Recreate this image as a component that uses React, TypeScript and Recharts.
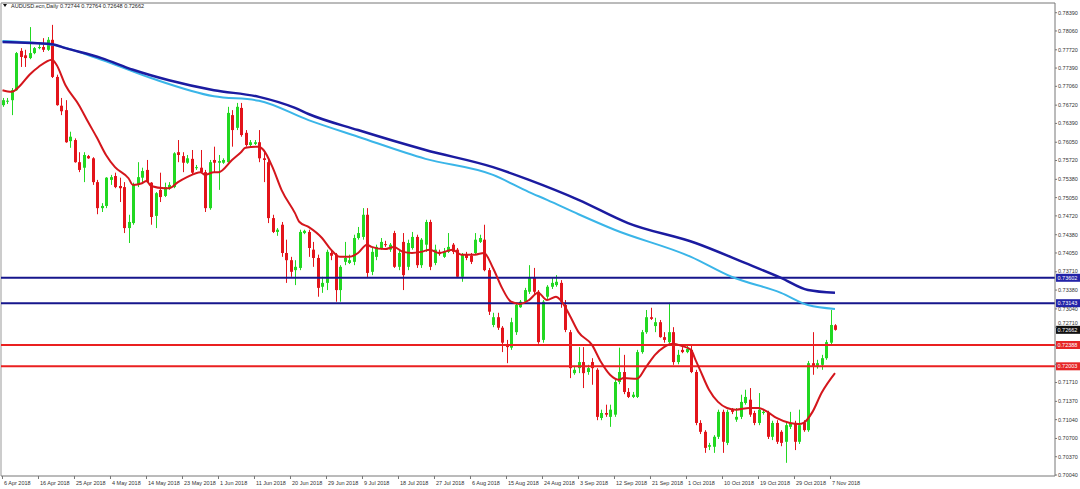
import { Bar, ComposedChart, Line, ReferenceLine, XAxis, YAxis } from "recharts";

// daily bars from 6 Apr 2018 (Sunday sessions included)
const opens = [
  0.7672, 0.7679, 0.7681, 0.7699, 0.777, 0.7762, 0.7757, 0.7766, 0.7775, 0.7777,
  0.7772, 0.779, 0.7723, 0.7671, 0.7663, 0.7607, 0.7609, 0.7569, 0.7559, 0.758,
  0.7576, 0.7533, 0.7486, 0.749, 0.7537, 0.7544, 0.7526, 0.7524, 0.745, 0.7459,
  0.7528, 0.7541, 0.7555, 0.7532, 0.7472, 0.7519, 0.7508, 0.7522, 0.7524, 0.7587,
  0.758, 0.7568, 0.7575, 0.7559, 0.7559, 0.7551, 0.7486, 0.7573, 0.7568, 0.7568,
  0.7569, 0.7654, 0.7631, 0.7667, 0.7622, 0.76, 0.7602, 0.7605, 0.7576, 0.7569,
  0.7468, 0.7443, 0.7456, 0.7405, 0.7392, 0.7374, 0.7378, 0.7441, 0.7443, 0.7411,
  0.7396, 0.7344, 0.7351, 0.7405, 0.7402, 0.7338, 0.7389, 0.7387, 0.7389, 0.7432,
  0.7434, 0.7474, 0.7371, 0.7398, 0.7414, 0.7421, 0.7411, 0.7441, 0.738, 0.7425,
  0.738, 0.7414, 0.7434, 0.7383, 0.742, 0.7461, 0.7387, 0.7407, 0.7398, 0.7407,
  0.742, 0.7411, 0.7362, 0.7402, 0.74, 0.7405, 0.7425, 0.7429, 0.7374, 0.7275,
  0.7289, 0.727, 0.7239, 0.7234, 0.7262, 0.7307, 0.7317, 0.7335, 0.736, 0.7335,
  0.7248, 0.7326, 0.7344, 0.7347, 0.7351, 0.7311, 0.7262, 0.7188, 0.7197, 0.7208,
  0.719, 0.7208, 0.7194, 0.7107, 0.7116, 0.7109, 0.7113, 0.7172, 0.719, 0.7154,
  0.7145, 0.7145, 0.7226, 0.7262, 0.7289, 0.7273, 0.728, 0.7253, 0.7244, 0.7262,
  0.7208, 0.723, 0.7226, 0.723, 0.719, 0.7098, 0.7082, 0.7055, 0.7055, 0.7073,
  0.7118, 0.7062, 0.7122, 0.7104, 0.7109, 0.7134, 0.714, 0.7116, 0.7098, 0.7116,
  0.7116, 0.7073, 0.7098, 0.7082, 0.7064, 0.7091, 0.7098, 0.7064, 0.7098, 0.7085,
  0.7206, 0.7199, 0.7203, 0.7215, 0.7243, 0.72744,
];
const highs = [
  0.7685, 0.7685, 0.7703, 0.7768, 0.7775, 0.7772, 0.7813, 0.7777, 0.7784, 0.7793,
  0.7795, 0.7817, 0.7727, 0.7685, 0.7681, 0.7624, 0.7612, 0.7587, 0.7587, 0.7582,
  0.7578, 0.7537, 0.7495, 0.7542, 0.7546, 0.755, 0.7541, 0.7533, 0.7474, 0.7532,
  0.7569, 0.7559, 0.7573, 0.7533, 0.7515, 0.755, 0.7532, 0.7533, 0.7587, 0.7609,
  0.7587, 0.7582, 0.7591, 0.7564, 0.7591, 0.7555, 0.7573, 0.7597, 0.7582, 0.7576,
  0.7669, 0.7663, 0.7676, 0.7676, 0.7627, 0.7609, 0.7609, 0.7627, 0.7591, 0.7576,
  0.7474, 0.745, 0.7461, 0.7429, 0.7398, 0.7392, 0.7447, 0.7447, 0.7447, 0.7425,
  0.7402, 0.7362, 0.7411, 0.7411, 0.7405, 0.7383, 0.7425, 0.7402, 0.7438, 0.7452,
  0.7486, 0.7486, 0.7414, 0.742, 0.7432, 0.7427, 0.7423, 0.7445, 0.7411, 0.7441,
  0.7429, 0.7443, 0.7438, 0.7432, 0.7465, 0.7465, 0.742, 0.7411, 0.7414, 0.7441,
  0.7423, 0.7414, 0.7405, 0.7407, 0.7405, 0.7441, 0.7438, 0.7456, 0.7378, 0.7297,
  0.7297, 0.7273, 0.7248, 0.7288, 0.7315, 0.732, 0.7342, 0.7383, 0.7378, 0.7338,
  0.732, 0.7347, 0.736, 0.7365, 0.7356, 0.732, 0.7266, 0.7201, 0.7235, 0.7235,
  0.7203, 0.7215, 0.7197, 0.7122, 0.7131, 0.7131, 0.7176, 0.7234, 0.7221, 0.7161,
  0.7154, 0.723, 0.7266, 0.7302, 0.7306, 0.7288, 0.7284, 0.7262, 0.7315, 0.7271,
  0.723, 0.7235, 0.7237, 0.7239, 0.7194, 0.7103, 0.7085, 0.7062, 0.7076, 0.7122,
  0.7122, 0.7122, 0.7125, 0.7125, 0.7149, 0.7158, 0.7161, 0.712, 0.7152, 0.7122,
  0.712, 0.7102, 0.7103, 0.7085, 0.7098, 0.7118, 0.7102, 0.7122, 0.7103, 0.721,
  0.7262, 0.7212, 0.7221, 0.7248, 0.7302, 0.72764,
];
const lows = [
  0.7669, 0.7674, 0.7654, 0.7698, 0.7741, 0.7741, 0.7755, 0.7764, 0.7773, 0.7768,
  0.777, 0.7721, 0.7671, 0.7654, 0.7604, 0.7595, 0.7568, 0.7551, 0.7533, 0.7575,
  0.7528, 0.7475, 0.7479, 0.7486, 0.7528, 0.7522, 0.7497, 0.7441, 0.7423, 0.7456,
  0.7524, 0.7533, 0.7532, 0.7456, 0.745, 0.7497, 0.7506, 0.7519, 0.7522, 0.7569,
  0.7551, 0.7566, 0.7546, 0.7555, 0.755, 0.7479, 0.7483, 0.7551, 0.7519, 0.7566,
  0.7568, 0.7597, 0.7627, 0.7615, 0.7597, 0.7597, 0.76, 0.7569, 0.7533, 0.7459,
  0.7441, 0.7436, 0.7398, 0.7351, 0.7362, 0.7347, 0.7374, 0.7439, 0.7398, 0.738,
  0.7326, 0.7333, 0.7338, 0.7392, 0.7317, 0.7317, 0.7383, 0.7385, 0.7383, 0.7429,
  0.7429, 0.736, 0.7365, 0.7392, 0.7411, 0.7416, 0.7407, 0.7378, 0.7374, 0.7338,
  0.7374, 0.7411, 0.7378, 0.7378, 0.7407, 0.7374, 0.7383, 0.74, 0.7396, 0.7405,
  0.7403, 0.736, 0.7353, 0.7392, 0.7385, 0.7402, 0.7423, 0.7372, 0.7293, 0.7271,
  0.7266, 0.7226, 0.7206, 0.723, 0.7257, 0.7306, 0.7313, 0.7331, 0.7331, 0.7241,
  0.7243, 0.7322, 0.734, 0.7344, 0.7306, 0.7262, 0.7179, 0.7185, 0.7188, 0.7161,
  0.7185, 0.7167, 0.7103, 0.7103, 0.7109, 0.7091, 0.7109, 0.7168, 0.715, 0.7143,
  0.7143, 0.7143, 0.7223, 0.7259, 0.7284, 0.7262, 0.7252, 0.7243, 0.7241, 0.7203,
  0.7204, 0.7224, 0.7224, 0.7188, 0.7094, 0.7078, 0.7044, 0.7049, 0.7044, 0.7069,
  0.7044, 0.7058, 0.7114, 0.71, 0.7105, 0.7131, 0.7109, 0.7094, 0.7094, 0.7113,
  0.7069, 0.7067, 0.706, 0.7056, 0.7026, 0.7087, 0.7049, 0.706, 0.7082, 0.7082,
  0.7185, 0.7196, 0.7194, 0.7212, 0.7239, 0.72648,
];
const closes = [
  0.7681, 0.768, 0.7699, 0.7766, 0.7759, 0.7757, 0.7766, 0.7775, 0.7777, 0.7772,
  0.779, 0.7723, 0.7672, 0.7661, 0.7605, 0.7615, 0.7569, 0.7555, 0.7582, 0.7576,
  0.7533, 0.7486, 0.749, 0.7541, 0.7542, 0.7524, 0.7522, 0.745, 0.7461, 0.7528,
  0.7542, 0.7553, 0.7533, 0.747, 0.7513, 0.7506, 0.7524, 0.7528, 0.7585, 0.7582,
  0.7568, 0.7576, 0.755, 0.756, 0.7551, 0.7486, 0.7569, 0.7568, 0.7571, 0.7573,
  0.7658, 0.7627, 0.7669, 0.7618, 0.76, 0.7605, 0.7605, 0.7576, 0.7573, 0.7468,
  0.7443, 0.7447, 0.7405, 0.7392, 0.7371, 0.738, 0.7443, 0.7445, 0.7414, 0.7396,
  0.7342, 0.7351, 0.7407, 0.74, 0.7338, 0.738, 0.7396, 0.7392, 0.7432, 0.7441,
  0.7474, 0.7369, 0.7407, 0.7416, 0.7425, 0.742, 0.742, 0.738, 0.7405, 0.7365,
  0.7423, 0.7434, 0.7383, 0.7429, 0.7461, 0.738, 0.7411, 0.7403, 0.7407, 0.7416,
  0.7407, 0.7362, 0.7402, 0.7396, 0.7389, 0.7429, 0.7432, 0.7374, 0.7299, 0.7289,
  0.727, 0.7243, 0.7235, 0.728, 0.7311, 0.7317, 0.7338, 0.736, 0.7335, 0.7244,
  0.7317, 0.7344, 0.7351, 0.7353, 0.7317, 0.7266, 0.7197, 0.7194, 0.7208, 0.7188,
  0.7197, 0.7197, 0.7109, 0.7116, 0.7113, 0.7122, 0.7172, 0.719, 0.7154, 0.7145,
  0.7149, 0.7226, 0.7262, 0.7289, 0.7286, 0.728, 0.7253, 0.7248, 0.7262, 0.7208,
  0.7221, 0.7226, 0.7232, 0.719, 0.7098, 0.7082, 0.7053, 0.7058, 0.7073, 0.7118,
  0.7064, 0.7118, 0.7118, 0.7109, 0.7136, 0.7145, 0.7113, 0.7098, 0.7122, 0.7118,
  0.7073, 0.7098, 0.7064, 0.7062, 0.7094, 0.7098, 0.7064, 0.7094, 0.7085, 0.7206,
  0.7201, 0.7206, 0.7215, 0.7244, 0.7275, 0.72662,
];

// moving averages, read at the listed bars
const fastMaBars = [
  0, 2, 4, 6, 8, 11, 12, 14, 17, 19, 21, 23, 25, 28, 29, 31, 32, 33, 36, 37, 39, 41, 44, 45, 47,
  48, 51, 53, 54, 57, 58, 60, 62, 65, 66, 68, 71, 73, 75, 77, 79, 81, 82, 85, 87, 89, 91, 93, 95,
  97, 100, 102, 105, 107, 109, 111, 113, 115, 117, 119, 121, 123, 124, 126, 128, 131, 133, 135,
  137, 138, 141, 143, 145, 147, 149, 151, 153, 154, 155, 157, 159, 161, 163, 166, 168, 170, 172,
  175, 177, 178, 180, 182, 185,
];
const fastMaValues = [
  0.7699, 0.7696, 0.7708, 0.7727, 0.7741, 0.7754, 0.7745, 0.7708, 0.7672, 0.7642, 0.7613, 0.7582,
  0.756, 0.754, 0.7528, 0.7531, 0.7535, 0.7526, 0.7522, 0.7522, 0.7533, 0.7542, 0.7551, 0.7546,
  0.7551, 0.7551, 0.7573, 0.7587, 0.7595, 0.7597, 0.7591, 0.756, 0.7519, 0.7477, 0.7461, 0.7452,
  0.7432, 0.7411, 0.7398, 0.7398, 0.7405, 0.742, 0.7416, 0.7412, 0.7416, 0.7407, 0.7405, 0.7407,
  0.7411, 0.7405, 0.7411, 0.7402, 0.7402, 0.7405, 0.7378, 0.7342, 0.7317, 0.7313, 0.732, 0.7333,
  0.732, 0.7326, 0.732, 0.7293, 0.7262, 0.7239, 0.7208, 0.7185, 0.7176, 0.7179, 0.7178, 0.7199,
  0.7221, 0.7235, 0.7241, 0.7237, 0.723, 0.7212, 0.7194, 0.7158, 0.7136, 0.7125, 0.7122, 0.7125,
  0.7125, 0.7118, 0.7107, 0.7098, 0.7096, 0.7098, 0.7118, 0.7152, 0.7188,
];
const slowMaBars = [0, 11, 14, 22, 29, 37, 47, 57, 65, 68, 79, 94, 109, 117, 128, 139, 154, 165, 173, 179, 185];
const slowMaValues = [
  0.7786, 0.7782, 0.7775, 0.7757, 0.7736, 0.7717, 0.7699, 0.7687, 0.7667, 0.7656, 0.7627, 0.7591,
  0.756, 0.7537, 0.7501, 0.7459, 0.7423, 0.7387, 0.736, 0.7338, 0.7333,
];
const midMaBars = [0, 11, 22, 33, 47, 57, 68, 79, 94, 109, 117, 121, 128, 136, 153, 162, 173, 179, 185];
const midMaValues = [
  0.7788, 0.7781, 0.7754, 0.7721, 0.7688, 0.768, 0.7645, 0.7615, 0.7575, 0.7546, 0.7515, 0.7501,
  0.7475, 0.7447, 0.7398, 0.7362, 0.7333, 0.7311, 0.7304,
];

const supportLevels = [0.73602, 0.73143];
const resistLevels = [0.72388, 0.72003];

const xLabelBars = [0, 8, 16, 24, 32, 40, 48, 56, 64, 72, 80, 88, 96, 104, 112, 120, 128, 136, 144, 152, 160, 168, 176, 184];
const xLabels = [
  "6 Apr 2018", "16 Apr 2018", "25 Apr 2018", "4 May 2018", "14 May 2018", "23 May 2018",
  "1 Jun 2018", "11 Jun 2018", "20 Jun 2018", "29 Jun 2018", "9 Jul 2018", "18 Jul 2018",
  "27 Jul 2018", "6 Aug 2018", "15 Aug 2018", "24 Aug 2018", "3 Sep 2018", "12 Sep 2018",
  "21 Sep 2018", "1 Oct 2018", "10 Oct 2018", "19 Oct 2018", "29 Oct 2018", "7 Nov 2018",
];
const priceTicks = [
  0.7839, 0.7806, 0.7772, 0.7739, 0.7706, 0.7672, 0.7639, 0.7605, 0.7572, 0.7538, 0.7505, 0.7472,
  0.7438, 0.7405, 0.7371, 0.7338, 0.7304, 0.7271, 0.7237, 0.7204, 0.7171, 0.7137, 0.7104, 0.707,
  0.7037, 0.7004,
];

const X_DOMAIN: [number, number] = [-0.333, 233.889];
const Y_DOMAIN: [number, number] = [0.70022, 0.78565];
const PLOT_H = 473;
const FONT = "'Liberation Sans', Arial, sans-serif";
const BULL = "#22d822";
const BEAR = "#e3141b";
const NAVY = "#16168c";

const pick = (bars: number[], vals: number[], i: number) => {
  const k = bars.indexOf(i);
  return k >= 0 ? vals[k] : null;
};

const table = opens.map((open, i) => ({
  bar: i,
  open,
  high: highs[i],
  low: lows[i],
  close: closes[i],
  fast: pick(fastMaBars, fastMaValues, i),
  slow: pick(slowMaBars, slowMaValues, i),
  mid: pick(midMaBars, midMaValues, i),
}));

const last = table.length - 1;
const tagPrices = [...supportLevels, ...resistLevels, closes[last]];

function Candle(props: any) {
  const { x, y, width, height, payload } = props;
  if (!payload || y == null || height == null) return null;
  const top = Math.min(y, y + height);
  const h = Math.abs(height);
  const span = payload.high - payload.low;
  const at = (v: number) => (span > 0 ? top + ((payload.high - v) / span) * h : top);
  const up = payload.close >= payload.open;
  const color = up ? BULL : BEAR;
  const cx = Math.round(x + width / 2) + 0.5;
  const b1 = at(Math.max(payload.open, payload.close));
  const b2 = at(Math.min(payload.open, payload.close));
  return (
    <g>
      <line x1={cx} x2={cx} y1={top} y2={top + h} stroke={color} strokeWidth={1} />
      <rect x={cx - 1.5} y={b1} width={3} height={Math.max(b2 - b1, 1)} fill={color} />
    </g>
  );
}

function DateTick({ x, y, payload }: any) {
  const k = xLabelBars.indexOf(payload.value);
  return (
    <g>
      <line x1={x} x2={x} y1={y} y2={y + 3} stroke="#777" />
      <text x={x + 1.5} y={y + 8.5} fontSize={5.5} fill="#333" fontFamily={FONT}>
        {k >= 0 ? xLabels[k] : ""}
      </text>
    </g>
  );
}

// price labels hidden behind a tag are dropped, the ones just above a tag peek out over it
function PriceTick({ x, y, payload }: any) {
  const v = payload.value as number;
  const pxPerUnit = PLOT_H / (Y_DOMAIN[1] - Y_DOMAIN[0]);
  let shift = 0;
  for (const t of tagPrices) {
    const d = (v - t) * pxPerUnit;
    if (Math.abs(d) < 2.2) return null;
    if (d > 2.2 && d < 7) shift = Math.min(shift, d - 6.5);
  }
  return (
    <text x={x} y={y + shift} dy="0.355em" fontSize={5.5} fill="#333" fontFamily={FONT}>
      {v.toFixed(5)}
    </text>
  );
}

const priceTag = (bg: string, value: number) => (p: any) => {
  const vb = p.viewBox || {};
  const right = (vb.x ?? 0) + (vb.width ?? 0);
  const y = vb.y ?? 0;
  return (
    <g>
      <rect x={right + 1} y={y - 4} width={25} height={8} fill={bg} />
      <text x={right + 2.5} y={y + 2} fontSize={5.5} fill="#fff" fontFamily={FONT}>
        {value.toFixed(5)}
      </text>
    </g>
  );
};

export default function App() {
  const title = `AUDUSD.ecn,Daily  ${opens[last].toFixed(5)} ${highs[last].toFixed(5)} ${lows[last].toFixed(5)} ${closes[last].toFixed(5)}`;
  return (
    <div style={{ position: "fixed", left: 0, top: 0, width: 1080, height: 489, background: "#fff" }}>
      <ComposedChart width={1080} height={489} data={table} margin={{ top: 3, right: 0, left: 1, bottom: 0 }}>
        <XAxis
          dataKey="bar"
          type="number"
          domain={X_DOMAIN}
          allowDataOverflow
          ticks={xLabelBars}
          interval={0}
          tick={<DateTick />}
          tickLine={false}
          tickSize={0}
          tickMargin={0}
          axisLine={{ stroke: "#777" }}
          height={13}
        />
        <YAxis
          orientation="right"
          type="number"
          domain={Y_DOMAIN}
          allowDataOverflow
          ticks={priceTicks}
          interval={0}
          width={25}
          tickSize={2}
          tickMargin={1}
          tickLine={{ stroke: "#777" }}
          axisLine={{ stroke: "#777" }}
          tick={<PriceTick />}
        />
        <ReferenceLine y={Y_DOMAIN[1]} stroke="#777" />
        <ReferenceLine x={X_DOMAIN[0]} stroke="#999" />
        {supportLevels.map((v) => (
          <ReferenceLine key={v} y={v} stroke={NAVY} strokeWidth={2} label={priceTag("#2323a8", v)} />
        ))}
        {resistLevels.map((v) => (
          <ReferenceLine key={v} y={v} stroke="#ea2020" strokeWidth={2} label={priceTag("#e62626", v)} />
        ))}
        <ReferenceLine y={closes[last]} stroke="none" label={priceTag("#111", closes[last])} />
        <Bar
          dataKey={(d: any) => [d.low, d.high]}
          barSize={3}
          shape={<Candle />}
          isAnimationActive={false}
        />
        <Line dataKey="mid" type="monotone" stroke="#3ab5e8" strokeWidth={2} dot={false} connectNulls isAnimationActive={false} />
        <Line dataKey="slow" type="monotone" stroke="#1b1ba0" strokeWidth={2.5} dot={false} connectNulls isAnimationActive={false} />
        <Line dataKey="fast" type="monotone" stroke="#d4161c" strokeWidth={2} dot={false} connectNulls isAnimationActive={false} />
      </ComposedChart>
      <svg width={200} height={12} style={{ position: "absolute", left: 0, top: 0 }}>
        <path d="M3 4 L7 4 L5 7 Z" fill="#111" />
        <text x={11} y={8} fontSize={5.5} fill="#222" fontFamily={FONT}>
          {title}
        </text>
      </svg>
    </div>
  );
}
